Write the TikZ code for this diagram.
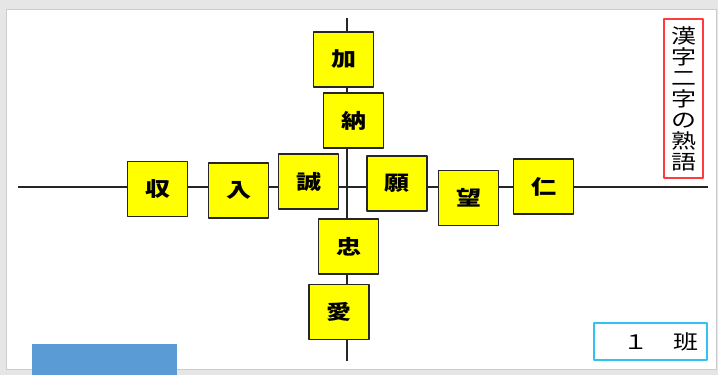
\documentclass[tikz,border=0pt]{standalone}
\usepackage{fontspec}
\usepackage{graphicx}
\newfontfamily\jp{Noto Sans CJK JP}
\definecolor{panelgray}{HTML}{E6E6E6}
\definecolor{kyellow}{HTML}{FFFF00}
\definecolor{tagred}{HTML}{FF3B3B}
\definecolor{tagcyan}{HTML}{33C1F2}
\definecolor{barblue}{HTML}{5B9BD5}
\newcommand\wide[1]{\scalebox{1.25}[1]{#1}}
\begin{document}
\begin{tikzpicture}[x=1pt,y=-1pt,line join=round,font=\jp,
	kbox/.style={draw=black!85,line width=1.8pt,fill=kyellow,minimum width=60pt,minimum height=55pt,inner sep=0pt,font=\jp\bfseries\fontsize{20}{20}\selectfont},
	axis/.style={line width=1.2pt,black!85}]
	\useasboundingbox (0,0) rectangle (718,375);
	\fill[panelgray] (0,0) rectangle (718,375);
	\draw[fill=white,draw=black!20] (6,9) rectangle (716,369);
	\path
	(347,18) coordinate (N)
	(347,361) coordinate (S)
	(18,187) coordinate (W)
	(708,187) coordinate (E)
	;
	\draw[axis] (N)--(S) (W)--(E);
	\foreach \n/\t/\p in {ka/加/{343.5,59.5},nou/納/{353.5,120.5},sei/誠/{308.5,181.5},shu/収/{157.5,189},nyu/入/{238.5,190.5},gan/願/{397,183.5},bou/望/{468.5,198},jin/仁/{543.5,186.5},chu/忠/{348.5,246.5},ai/愛/{339,312}}\node[kbox] (\n) at (\p) {\wide{\t}};
	\node[draw=tagred,line width=1.3pt,fill=white,minimum width=39pt,minimum height=159pt,inner sep=0pt,align=center,font=\jp\fontsize{20}{21}\selectfont] (title) at (683.5,98.5) {\wide{漢}\\\wide{字}\\\wide{二}\\\wide{字}\\\wide{の}\\\wide{熟}\\\wide{語}};
	\node[draw=tagcyan,line width=1.3pt,fill=white,minimum width=113pt,minimum height=37pt,inner sep=0pt] (han) at (650.5,341.5) {};
	\node[anchor=east,inner sep=0pt,font=\jp\fontsize{20}{20}\selectfont] (hantext) at (699,341.5) {\wide{１　班}};
	\fill[barblue] (32,344) rectangle (177,375);
\end{tikzpicture}
\end{document}
